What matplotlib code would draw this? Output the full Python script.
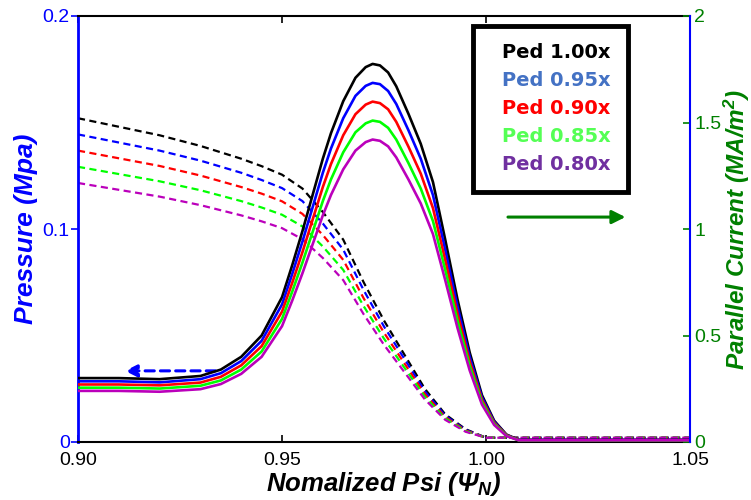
import matplotlib
matplotlib.use("Agg")
import matplotlib.pyplot as plt
from matplotlib.patches import FancyArrowPatch

# ---- data ----
psi_current = [0.900, 0.910, 0.920, 0.930, 0.935, 0.940, 0.945, 0.950, 0.9525, 0.955,
               0.9575, 0.960, 0.962, 0.965, 0.968, 0.9705, 0.9722, 0.974, 0.976, 0.978,
               0.981, 0.984, 0.987, 0.990, 0.993, 0.996, 0.999, 1.002, 1.005, 1.008, 1.050]
cur_100 = [0.300, 0.300, 0.295, 0.310, 0.340, 0.400, 0.500, 0.680, 0.830, 0.990, 1.160, 1.330,
           1.450, 1.600, 1.710, 1.760, 1.775, 1.768, 1.735, 1.670, 1.540, 1.400, 1.220, 0.950,
           0.670, 0.420, 0.220, 0.100, 0.035, 0.010, 0.010]
cur_095 = [0.285, 0.285, 0.280, 0.295, 0.323, 0.380, 0.475, 0.646, 0.789, 0.941, 1.102, 1.264,
           1.378, 1.520, 1.625, 1.672, 1.686, 1.680, 1.648, 1.587, 1.463, 1.330, 1.159, 0.903,
           0.637, 0.399, 0.209, 0.095, 0.033, 0.010, 0.010]
cur_090 = [0.270, 0.270, 0.266, 0.279, 0.306, 0.360, 0.450, 0.612, 0.747, 0.891, 1.044, 1.197,
           1.305, 1.440, 1.539, 1.584, 1.598, 1.591, 1.562, 1.503, 1.386, 1.260, 1.098, 0.855,
           0.603, 0.378, 0.198, 0.090, 0.032, 0.009, 0.009]
cur_085 = [0.255, 0.255, 0.251, 0.264, 0.289, 0.340, 0.425, 0.578, 0.706, 0.842, 0.986, 1.131,
           1.233, 1.360, 1.454, 1.496, 1.509, 1.503, 1.475, 1.420, 1.309, 1.190, 1.037, 0.808,
           0.570, 0.357, 0.187, 0.085, 0.030, 0.008, 0.008]
cur_080 = [0.240, 0.240, 0.236, 0.248, 0.272, 0.320, 0.400, 0.544, 0.664, 0.792, 0.928, 1.064,
           1.160, 1.280, 1.368, 1.408, 1.420, 1.414, 1.388, 1.336, 1.232, 1.120, 0.976, 0.760,
           0.536, 0.336, 0.176, 0.080, 0.028, 0.008, 0.008]

psi_pressure = [0.900, 0.910, 0.920, 0.930, 0.940, 0.945, 0.950, 0.955, 0.960, 0.965,
                0.970, 0.975, 0.980, 0.985, 0.990, 0.995, 1.000, 1.050]
p_100 = [0.1520, 0.1480, 0.1440, 0.1390, 0.1330, 0.1295, 0.1255, 0.1190, 0.1080, 0.0950,
         0.0750, 0.0570, 0.0410, 0.0250, 0.0130, 0.0060, 0.0020, 0.0020]
p_095 = [0.1444, 0.1406, 0.1368, 0.1321, 0.1264, 0.1230, 0.1192, 0.1131, 0.1026, 0.0903,
         0.0713, 0.0542, 0.0390, 0.0238, 0.0124, 0.0057, 0.0020, 0.0020]
p_090 = [0.1368, 0.1332, 0.1296, 0.1251, 0.1197, 0.1166, 0.1130, 0.1071, 0.0972, 0.0855,
         0.0675, 0.0513, 0.0369, 0.0225, 0.0117, 0.0054, 0.0020, 0.0020]
p_085 = [0.1292, 0.1258, 0.1224, 0.1182, 0.1131, 0.1101, 0.1067, 0.1012, 0.0918, 0.0808,
         0.0638, 0.0485, 0.0349, 0.0213, 0.0111, 0.0051, 0.0020, 0.0020]
p_080 = [0.1216, 0.1184, 0.1152, 0.1112, 0.1064, 0.1036, 0.1004, 0.0952, 0.0864, 0.0760,
         0.0600, 0.0456, 0.0328, 0.0200, 0.0104, 0.0048, 0.0020, 0.0020]

labels = ["Ped 1.00x", "Ped 0.95x", "Ped 0.90x", "Ped 0.85x", "Ped 0.80x"]
line_colors = ["#000000", "#0000FF", "#FF0000", "#00FF00", "#BB00BB"]
label_colors = ["#000000", "#4472C4", "#FF0000", "#55FF55", "#7030A0"]

x_ticks = [0.90, 0.95, 1.00, 1.05]
x_ticklabels = ["0.90", "0.95", "1.00", "1.05"]
p_ticks = [0, 0.1, 0.2]
p_ticklabels = ["0", "0.1", "0.2"]
c_ticks = [0, 0.5, 1, 1.5, 2]
c_ticklabels = ["0", "0.5", "1", "1.5", "2"]

# ---- plot ----
plt.rcParams['font.family'] = ['Liberation Sans', 'DejaVu Sans']
plt.rcParams['mathtext.fontset'] = 'custom'
plt.rcParams['mathtext.rm'] = 'Liberation Sans:bold:italic'
plt.rcParams['mathtext.it'] = 'Liberation Sans:bold:italic'

BLUE = "#0000FF"
GREEN = "#008000"

fig = plt.figure(figsize=(7.51, 5.0), dpi=100)
ax = fig.add_axes([0.1039, 0.116, 0.8149, 0.852])
ax2 = ax.twinx()

pressures = [p_100, p_095, p_090, p_085, p_080]
currents = [cur_100, cur_095, cur_090, cur_085, cur_080]

for p, c in zip(pressures, line_colors):
    ax.plot(psi_pressure, p, color=c, lw=1.6, dashes=(3.2, 2.0))

handles = []
for cur, c, lab in zip(currents, line_colors, labels):
    h, = ax2.plot(psi_current, cur, color=c, lw=1.9, label=lab)
    handles.append(h)

ax.set_xlim(0.90, 1.05)
ax.set_ylim(0, 0.2)
ax2.set_ylim(0, 2)

ax.set_xticks(x_ticks)
ax.set_xticklabels(x_ticklabels)
ax.set_yticks(p_ticks)
ax.set_yticklabels(p_ticklabels)
ax2.set_yticks(c_ticks)
ax2.set_yticklabels(c_ticklabels)

ax.tick_params(axis='x', direction='in', top=True, bottom=True, length=5, width=1.2,
               labelsize=14, colors='black', pad=7)
ax.tick_params(axis='y', direction='out', length=5, width=1.2, labelsize=14,
               colors=BLUE, pad=1)
ax2.tick_params(axis='y', direction='in', length=5, width=1.2, labelsize=14,
                colors=GREEN, pad=3)

for s in ['top', 'bottom']:
    ax.spines[s].set_color('black')
    ax.spines[s].set_linewidth(1.5)
ax.spines['left'].set_color(BLUE)
ax.spines['left'].set_linewidth(2.0)
ax.spines['right'].set_visible(False)
for s in ['top', 'bottom', 'left']:
    ax2.spines[s].set_visible(False)
ax2.spines['right'].set_color(BLUE)
ax2.spines['right'].set_linewidth(1.5)

ax.set_ylabel("Pressure (Mpa)", color=BLUE, fontsize=19, fontweight='bold',
              fontstyle='italic', labelpad=3)
ax2.set_ylabel(r"Parallel Current (MA/m$^{2}$)", color=GREEN, fontsize=17.5,
               fontweight='bold', fontstyle='italic', labelpad=0)
ax.set_xlabel(r"Nomalized Psi ($\mathit{\Psi}_{N}$)", color='black', fontsize=18.5,
              fontweight='bold', fontstyle='italic', labelpad=1)

leg = ax2.legend(handles=handles, loc='upper left', bbox_to_anchor=(0.645, 0.977),
                 handlelength=0, handletextpad=0.6, labelcolor=label_colors,
                 fancybox=False, framealpha=1, edgecolor='black',
                 prop={'family': 'DejaVu Sans', 'weight': 'bold', 'size': 14},
                 labelspacing=0.46, borderpad=0.9, borderaxespad=0)
for h in leg.legend_handles:
    h.set_visible(False)
leg.get_frame().set_linewidth(3.5)

# arrows
ax.add_patch(FancyArrowPatch((0.229, 0.167), (0.072, 0.167), transform=ax.transAxes,
                             arrowstyle='-|>', mutation_scale=18, color=BLUE, lw=2.2,
                             linestyle=(0, (3, 2))))
ax2.add_patch(FancyArrowPatch((0.698, 0.528), (0.899, 0.528), transform=ax2.transAxes,
                              arrowstyle='-|>', mutation_scale=20, color=GREEN, lw=2.2))

fig.savefig("out.png", dpi=100)
